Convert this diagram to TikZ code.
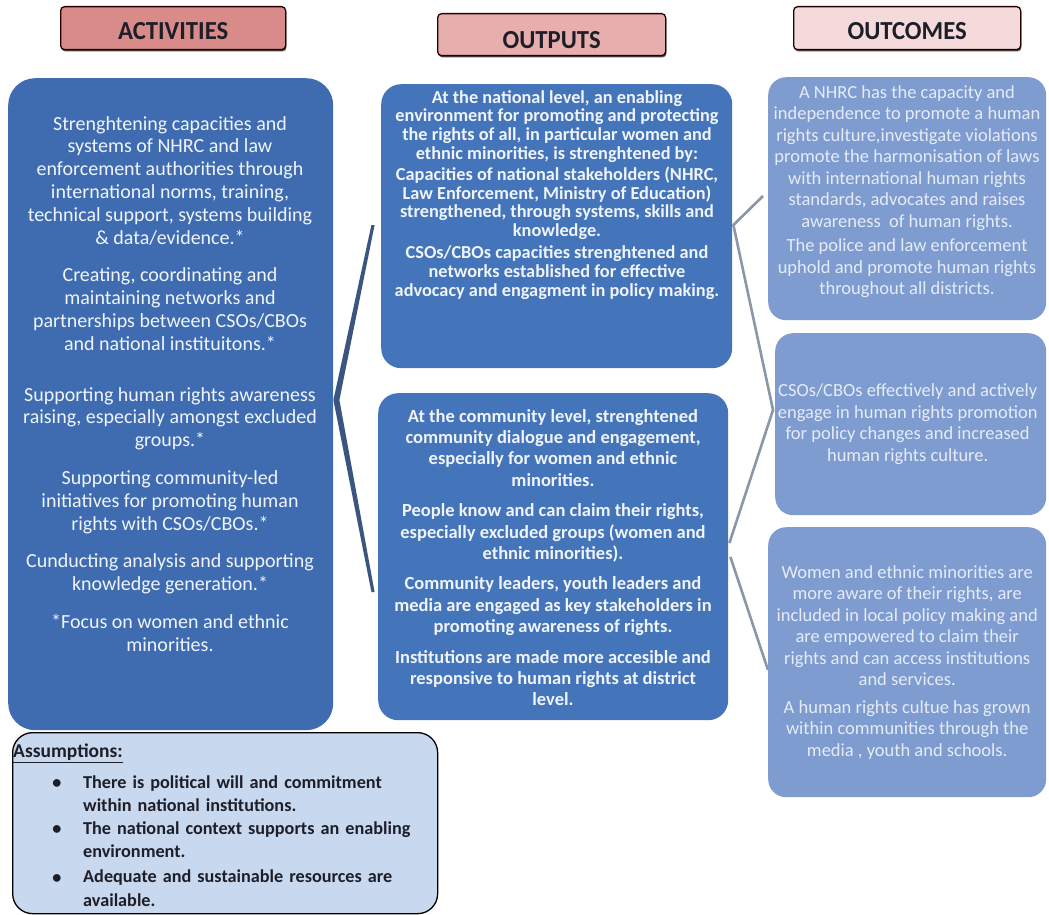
\documentclass[tikz,border=0pt]{standalone}
\usepackage{fontspec}
\setmainfont{Carlito}
\usetikzlibrary{calc,shadows}
\definecolor{actblue}{HTML}{3F6CB1}
\definecolor{outblue}{HTML}{4474BA}
\definecolor{ocblue}{HTML}{7E9CD0}
\definecolor{asfill}{HTML}{C8D8EE}
\definecolor{hdrA}{HTML}{D98B8A}
\definecolor{hdrB}{HTML}{E6AEAD}
\definecolor{hdrC}{HTML}{F4DADA}
\definecolor{lineL}{HTML}{3C5580}
\definecolor{lineR}{HTML}{8A96AA}
\definecolor{txtW}{HTML}{F0F4FB}
\definecolor{txtO}{HTML}{E6ECF7}
\definecolor{txtD}{HTML}{1E1E28}
\begin{document}
\begin{tikzpicture}[x=1pt,y=-1pt,
  hdr/.style={draw=black!85!red,line width=1.3pt,rounded corners=4pt,inner sep=0pt,anchor=north west,
     drop shadow={shadow xshift=0.8pt,shadow yshift=-1.8pt,fill=black!75,opacity=0.9}},
  hdrtxt/.style={font=\bfseries\fontsize{26}{28}\selectfont,text=txtD,inner sep=0pt},
  bbox/.style={rounded corners=24pt,inner sep=0pt,anchor=north west},
  acttxt/.style={font=\fontsize{20}{22.8}\selectfont,text=txtW,align=center,inner sep=0pt,anchor=north},
  outtxt/.style={font=\bfseries\fontsize{18.3}{18.8}\selectfont,text=txtW,align=center,inner sep=0pt,anchor=north},
  outtxtb/.style={font=\bfseries\fontsize{18.5}{21.4}\selectfont,text=txtW,align=center,inner sep=0pt,anchor=north},
  octxt/.style={font=\fontsize{18.5}{21.5}\selectfont,text=txtO,align=center,inner sep=0pt},
  astxt/.style={font=\bfseries\fontsize{18.2}{23.3}\selectfont,text=txtD,inner sep=0pt},
]
\useasboundingbox[fill=white] (0,0) rectangle (1049,915);

% headers
\node[hdr,fill=hdrA,minimum width=225,minimum height=43] (hA) at (60,6) {};
\node[hdr,fill=hdrB,minimum width=228,minimum height=42] (hB) at (437,13) {};
\node[hdr,fill=hdrC,minimum width=227,minimum height=43] (hC) at (793,6) {};
\node[hdrtxt] (hAt) at ($(hA.center)+(0,3)$) {\scalebox{0.95}[1]{ACTIVITIES}};
\node[hdrtxt] (hBt) at ($(hB.center)+(0,5)$) {\scalebox{0.95}[1]{OUTPUTS}};
\node[hdrtxt] (hCt) at ($(hC.center)+(0,3)$) {\scalebox{0.95}[1]{OUTCOMES}};

% boxes
\node[bbox,fill=actblue,rounded corners=27pt,minimum width=325,minimum height=652] (act) at (8,78) {};
\node[bbox,fill=outblue,rounded corners=20pt,minimum width=351,minimum height=284] (outA) at (381,84) {};
\node[bbox,fill=outblue,rounded corners=20pt,minimum width=350,minimum height=327] (outB) at (378,393) {};
\node[bbox,fill=ocblue,rounded corners=18pt,minimum width=278,minimum height=243] (oc1) at (768,77) {};
\node[bbox,fill=ocblue,rounded corners=18pt,minimum width=271,minimum height=182] (oc2) at (775,333) {};
\node[bbox,fill=ocblue,rounded corners=18pt,minimum width=278,minimum height=270] (oc3) at (768,527) {};
\node[bbox,fill=asfill,draw=black,line width=1.3pt,rounded corners=20pt,minimum width=425,minimum height=181] (as) at (12,732) {};

% activities text
\node[acttxt] (actT) at (170,116) {Strenghtening capacities and\\
systems of NHRC and law\\
enforcement authorities through\\
international norms, training,\\
technical support, systems building\\
\& data/evidence.*\\[15pt]
Creating, coordinating and\\
maintaining networks and\\
partnerships between CSOs/CBOs\\
and national instituitons.*\\[28pt]
Supporting human rights awareness\\
raising, especially amongst excluded\\
groups.*\\[15pt]
Supporting community-led\\
initiatives for promoting human\\
rights with CSOs/CBOs.*\\[15pt]
Cunducting analysis and supporting\\
knowledge generation.*\\[15pt]
*Focus on women and ethnic\\
minorities.};

% outputs text
\node[outtxt] (outAT) at (557,90) {At the national level, an enabling\\
environment for promoting and protecting\\
the rights of all, in particular women and\\
ethnic minorities, is strenghtened by:\\[2pt]
Capacities of national stakeholders (NHRC,\\
Law Enforcement, Ministry of Education)\\
strengthened, through systems, skills and\\
knowledge.\\[3pt]
CSOs/CBOs capacities strenghtened and\\
networks established for effective\\
advocacy and engagment in policy making.};

\node[outtxtb] (outBT) at (553,409) {At the community level, strenghtened\\
community dialogue and engagement,\\
especially for women and ethnic\\
minorities.\\[9pt]
People know and can claim their rights,\\
especially excluded groups (women and\\
ethnic minorities).\\[9pt]
Community leaders, youth leaders and\\
media are engaged as key stakeholders in\\
promoting awareness of rights.\\[9pt]
Institutions are made more accesible and\\
responsive to human rights at district\\
level.};

% outcomes text
\node[octxt,anchor=north] (oc1T) at (907,85) {A NHRC has the capacity and\\
independence to promote a human\\
rights culture,investigate violations\\
promote the harmonisation of laws\\
with international human rights\\
standards, advocates and raises\\
awareness\ \ of human rights.\\[3pt]
The police and law enforcement\\
uphold and promote human rights\\
throughout all districts.};

\node[octxt] (oc2T) at ($(oc2.center)+(-3,0)$) {CSOs/CBOs effectively and actively\\
engage in human rights promotion\\
for policy changes and increased\\
human rights culture.};

\node[octxt] (oc3T) at ($(oc3.center)+(0,0)$) {Women and ethnic minorities are\\
more aware of their rights, are\\
included in local policy making and\\
are empowered to claim their\\
rights and can access institutions\\
and services.\\[6pt]
A human rights cultue has grown\\
within communities through the\\
media , youth and schools.};

% assumptions
\node[astxt,font=\bfseries\fontsize{19.5}{23}\selectfont,anchor=west] (asH) at (13,753) {\underline{Assumptions:}};
\node[astxt,anchor=center] (b1) at (57,784) {\textbullet};
\node[astxt,anchor=center] (b2) at (57,830) {\textbullet};
\node[astxt,anchor=center] (b3) at (57,879) {\textbullet};
\node[astxt,anchor=north west,text width=345,align=left] (a1) at (83,775) {There is political will and commitment\\ within national institutions.};
\node[astxt,anchor=north west,text width=345,align=left] (a2) at (83,821) {The national context supports an enabling\\ environment.};
\node[astxt,anchor=north west,text width=345,align=left] (a3) at (83,870) {Adequate and sustainable resources are\\ available.};

% left bracket (tapered)
\coordinate (Lapex) at ($(act.north east)+(2,322)$);
\coordinate (Ltop) at ($(outA.north west)+(-8,141)$);
\coordinate (Lbot) at ($(outB.north west)+(-5,199)$);
\fill[lineL] ($(Ltop)+(1.6,0)$) -- ($(Lapex)+(4,0)$) -- ($(Lbot)+(1.6,0)$) -- ($(Lbot)+(-1.6,0)$) -- ($(Lapex)+(-2,0)$) -- ($(Ltop)+(-1.6,0)$) -- cycle;

% right connectors
\coordinate (RA) at ($(outA.north east)+(1,141)$);
\coordinate (R1) at ($(oc1.north west)+(-5,119)$);
\coordinate (R2) at ($(oc2.north west)+(-2,77)$);
\coordinate (RB1) at ($(outB.north east)+(1,150)$);
\coordinate (RB2) at ($(outB.north east)+(2,164)$);
\coordinate (R3) at ($(oc3.north west)+(0,143)$);
\draw[lineR,line width=2.6pt,line join=round] (R1) -- (RA) -- (R2) -- (RB1);
\draw[lineR,line width=2.6pt] (RB2) -- (R3);
\end{tikzpicture}
\end{document}
